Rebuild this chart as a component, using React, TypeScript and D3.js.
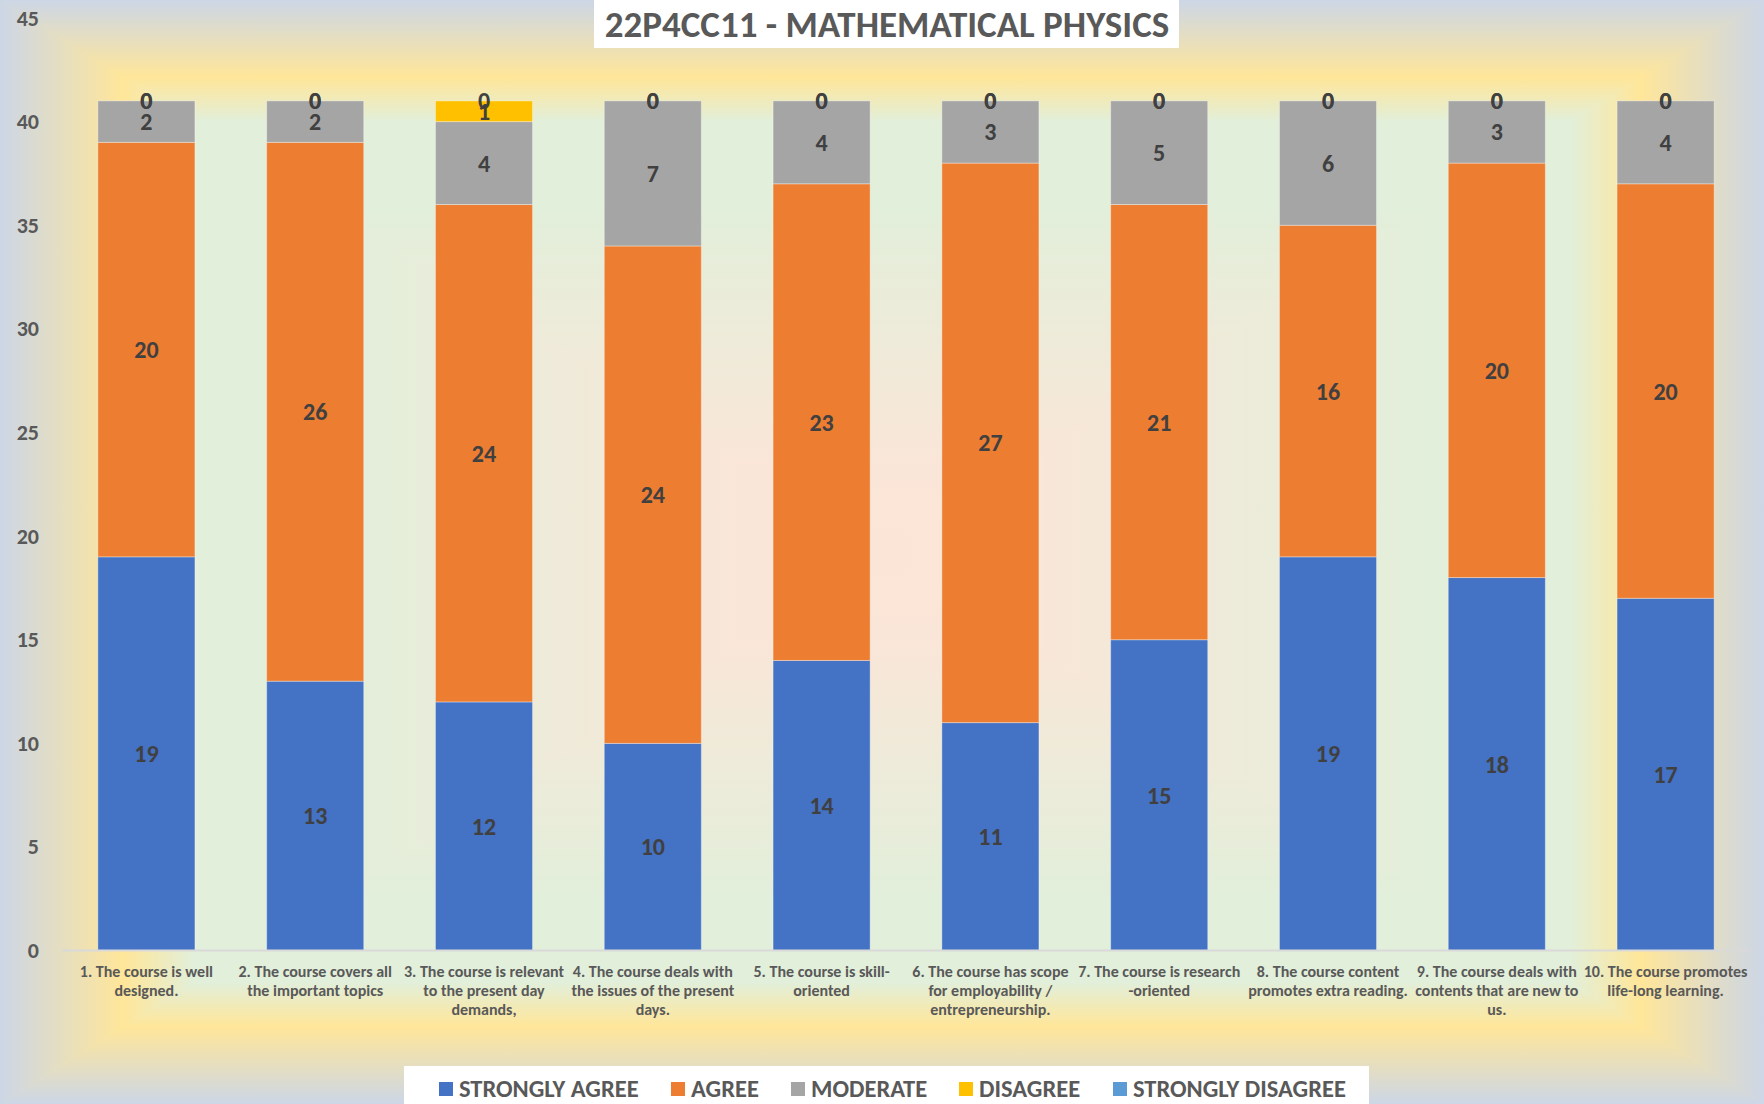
import { useEffect } from "react";
import * as d3 from "d3";

const title = "22P4CC11 - MATHEMATICAL PHYSICS";

const categories = ["Q1", "Q2", "Q3", "Q4", "Q5", "Q6", "Q7", "Q8", "Q9", "Q10"];

const categoryLines = [
  ["1. The course is well", "designed."],
  ["2. The course covers all", "the important topics"],
  ["3. The course is relevant", "to the present day", "demands,"],
  ["4. The course deals with", "the issues of the present", "days."],
  ["5. The course is skill-", "oriented"],
  ["6. The course has scope", "for employability /", "entrepreneurship."],
  ["7. The course is research", "-oriented"],
  ["8. The course content", "promotes extra reading."],
  ["9. The course deals with", "contents that are new to", "us."],
  ["10. The course promotes", "life-long learning."],
];

const seriesNames = ["STRONGLY AGREE", "AGREE", "MODERATE", "DISAGREE", "STRONGLY DISAGREE"];
const seriesColors = ["#4472c4", "#ed7d31", "#a5a5a5", "#ffc000", "#5b9bd5"];

const stronglyAgree = [19, 13, 12, 10, 14, 11, 15, 19, 18, 17];
const agree = [20, 26, 24, 24, 23, 27, 21, 16, 20, 20];
const moderate = [2, 2, 4, 7, 4, 3, 5, 6, 3, 4];
const disagree = [0, 0, 1, 0, 0, 0, 0, 0, 0, 0];
const stronglyDisagree = [0, 0, 0, 0, 0, 0, 0, 0, 0, 0];

const yTicks = [0, 5, 10, 15, 20, 25, 30, 35, 40, 45];

// legend square x positions
const legendX = [439, 671, 791, 959, 1113];

const W = 1764;
const H = 1104;
const FONT = "Carlito, Calibri, 'Liberation Sans Narrow', 'Open Sans', sans-serif";

// rectangular (Excel "from center") gradient, t=0 centre, t=1 edge
const gradStops: [number, string][] = [
  [0, "#fbe5d6"],
  [0.15, "#fae6d8"],
  [0.62, "#e2efda"],
  [0.78, "#e2efda"],
  [0.86, "#ffe699"],
  [1, "#ccd6e6"],
];

export default function App() {
  useEffect(() => {
    document.body.style.margin = "0";
    document.body.style.overflow = "hidden";
  }, []);

  const rows = categories.map((c, i) => ({
    cat: c,
    s0: stronglyAgree[i],
    s1: agree[i],
    s2: moderate[i],
    s3: disagree[i],
    s4: stronglyDisagree[i],
  }));
  const stack = d3.stack<any>().keys(["s0", "s1", "s2", "s3", "s4"])(rows);

  const x = d3.scaleBand().domain(categories).range([62, 1750]).paddingInner(0.425).paddingOuter(0.2125);
  const y = d3.scaleLinear().domain([0, 45]).range([950.6, 18]);

  const cx = W / 2;
  const cy = H / 2;
  const stops = gradStops.map(([t, c]) => ({ offset: 1 - t, c })).reverse();
  const grads = [
    { id: "gl", x1: 0, y1: 0, x2: cx, y2: 0, pts: `0,0 ${cx},${cy} 0,${H}` },
    { id: "gr", x1: W, y1: 0, x2: cx, y2: 0, pts: `${W},0 ${W},${H} ${cx},${cy}` },
    { id: "gt", x1: 0, y1: 0, x2: 0, y2: cy, pts: `0,0 ${W},0 ${cx},${cy}` },
    { id: "gb", x1: 0, y1: H, x2: 0, y2: cy, pts: `0,${H} ${W},${H} ${cx},${cy}` },
  ];

  return (
    <svg width={W} height={H} style={{ display: "block" }} fontFamily={FONT}>
      <defs>
        {grads.map((g) => (
          <linearGradient key={g.id} id={g.id} gradientUnits="userSpaceOnUse" x1={g.x1} y1={g.y1} x2={g.x2} y2={g.y2}>
            {stops.map((s, i) => (
              <stop key={i} offset={s.offset} stopColor={s.c} />
            ))}
          </linearGradient>
        ))}
      </defs>
      {grads.map((g) => (
        <polygon key={g.id} points={g.pts} fill={`url(#${g.id})`} stroke={`url(#${g.id})`} strokeWidth={1} />
      ))}

      {/* bars */}
      {stack.map((layer, si) => (
        <g key={si} fill={seriesColors[si]}>
          {layer.map((d, i) => (
            <rect
              key={i}
              x={x(categories[i])}
              width={x.bandwidth()}
              y={y(d[1])}
              height={y(d[0]) - y(d[1])}
              stroke="#ffffff"
              strokeOpacity={0.35}
              strokeWidth={1}
            />
          ))}
        </g>
      ))}

      {/* x axis line */}
      <line x1={62} x2={1750} y1={y(0)} y2={y(0)} stroke="#d9d9d9" strokeWidth={2} />

      {/* y ticks */}
      {yTicks.map((t) => (
        <text key={t} x={39} y={y(t)} textAnchor="end" dominantBaseline="central" fontSize={22} fontWeight="bold" fill="#595959">
          {t}
        </text>
      ))}

      {/* category labels */}
      {categoryLines.map((lines, i) => (
        <text key={i} textAnchor="middle" fontSize={16} fontWeight="bold" fill="#595959">
          {lines.map((ln, j) => (
            <tspan key={j} x={(x(categories[i]) as number) + x.bandwidth() / 2} y={977 + j * 19}>
              {ln}
            </tspan>
          ))}
        </text>
      ))}

      {/* data labels */}
      {stack.map((layer, si) => (
        <g key={si}>
          {layer.map((d, i) => (
            <text
              key={i}
              x={(x(categories[i]) as number) + x.bandwidth() / 2}
              y={y((d[0] + d[1]) / 2)}
              textAnchor="middle"
              dominantBaseline="central"
              fontSize={24}
              fontWeight="bold"
              fill="#404040"
            >
              {d[1] - d[0]}
            </text>
          ))}
        </g>
      ))}

      {/* title */}
      <rect x={594} y={0} width={585} height={48} fill="#ffffff" />
      <text x={887} y={24} textAnchor="middle" dominantBaseline="central" fontSize={37} fontWeight="bold" fill="#595959">
        {title}
      </text>

      {/* legend */}
      <rect x={404} y={1066} width={965} height={40} fill="#ffffff" />
      {seriesNames.map((n, i) => (
        <g key={n}>
          <rect x={legendX[i]} y={1082} width={14} height={14} fill={seriesColors[i]} />
          <text x={legendX[i] + 20} y={1089} dominantBaseline="central" fontSize={24.5} fontWeight="bold" fill="#595959">
            {n}
          </text>
        </g>
      ))}
    </svg>
  );
}
